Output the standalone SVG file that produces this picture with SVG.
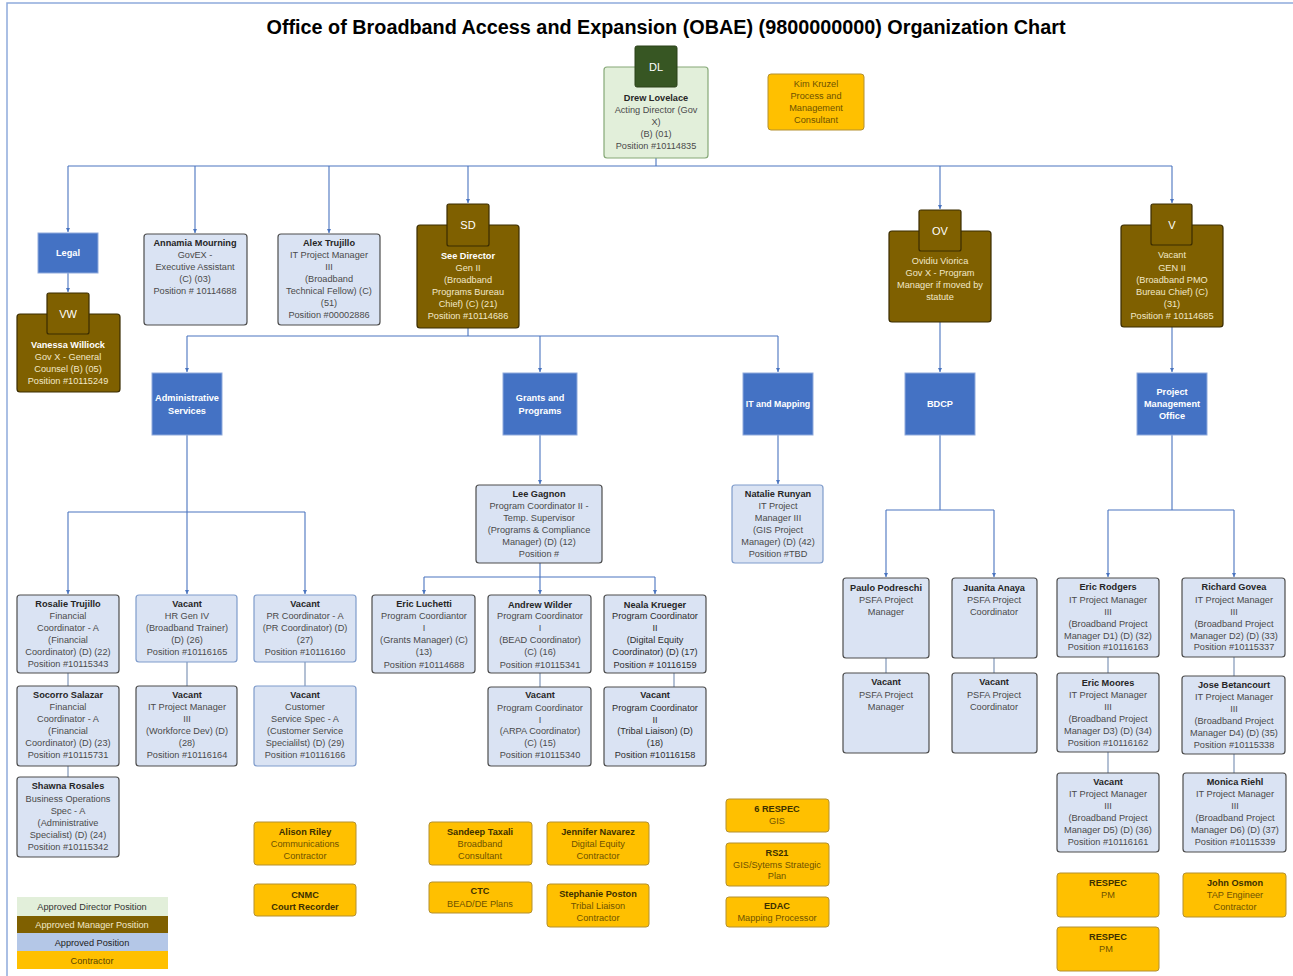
<svg xmlns="http://www.w3.org/2000/svg" width="1293" height="976" viewBox="0 0 1293 976">
<style>
text{font-family:"Liberation Sans",Arial,sans-serif;font-size:9.2px;text-anchor:middle;fill:#4a4a4a}
.b{font-weight:bold;fill:#262626}
.w{fill:#ffffff}
.wb{fill:#ffffff;font-weight:bold}
.cr{fill:#f2e8c8}
.h{font-size:11px;fill:#ffffff}
.kt{fill:#6e5200}
.kb{fill:#3d3000;font-weight:bold}
.dir{fill:#e2efda;stroke:#86a877;stroke-width:1.2}
.dh{fill:#375623;stroke:#2a4019;stroke-width:1}
.mgr{fill:#7f6000;stroke:#3a2c00;stroke-width:1.2}
.ap{fill:#dae3f3;stroke:#4d4d4d;stroke-width:1.2}
.av{fill:#dae3f3;stroke:#7f9ccb;stroke-width:1.2}
.ct{fill:#ffc000;stroke:#b39030;stroke-width:1}
.un{fill:#4472c4;stroke:#8faadc;stroke-width:1}
.c{fill:none;stroke:#4a74bf;stroke-width:1.1}
.ca{fill:none;stroke:#4a74bf;stroke-width:1.1;marker-end:url(#ar)}
.cp{fill:none;stroke:#8197b8;stroke-width:1.2}
</style>
<defs>
<marker id="ar" viewBox="0 0 6 6" refX="6" refY="3" markerWidth="4" markerHeight="4" markerUnits="userSpaceOnUse" orient="auto"><path d="M0,0 L6,3 L0,6 z" fill="#4a74bf"/></marker>
</defs>
<rect x="0" y="0" width="1293" height="976" fill="#ffffff"/>
<path d="M7,976 V3 H1293" fill="none" stroke="#8eaadb" stroke-width="1.5"/>
<text x="666" y="34" style="font-size:20px;font-weight:bold;fill:#000" textLength="799" lengthAdjust="spacingAndGlyphs">Office of Broadband Access and Expansion (OBAE) (9800000000) Organization Chart</text>

<g id="connectors">
<path class="c" d="M656,158 V166 M68,166 H1172"/>
<path class="ca" d="M68,166 V232"/>
<path class="ca" d="M195,166 V233"/>
<path class="ca" d="M329,166 V233"/>
<path class="ca" d="M468,166 V203"/>
<path class="ca" d="M940,166 V209"/>
<path class="ca" d="M1172,166 V203"/>
<path class="ca" d="M68,273 V292"/>
<path class="c" d="M468,328 V336 M187,336 H778"/>
<path class="ca" d="M187,336 V372"/>
<path class="ca" d="M540,336 V372"/>
<path class="ca" d="M778,336 V372"/>
<path class="ca" d="M940,322 V372"/>
<path class="ca" d="M1172,327 V372"/>
<path class="c" d="M187,435 V512 M68,512 H305"/>
<path class="ca" d="M68,512 V594"/>
<path class="ca" d="M187,512 V594"/>
<path class="ca" d="M305,512 V594"/>
<path class="ca" d="M540,435 V484"/>
<path class="ca" d="M778,435 V484"/>
<path class="c" d="M540,563 V577 M424,577 H655"/>
<path class="ca" d="M424,577 V594"/>
<path class="ca" d="M540,577 V594"/>
<path class="ca" d="M655,577 V594"/>
<path class="c" d="M940,435 V510 M886,510 H994"/>
<path class="ca" d="M886,510 V577"/>
<path class="ca" d="M994,510 V577"/>
<path class="c" d="M1172,435 V510 M1108,510 H1234"/>
<path class="ca" d="M1108,510 V577"/>
<path class="ca" d="M1234,510 V577"/>
<path class="cp" d="M68,673 V686 M187,662 V686 M305,662 V686 M68,766 V777 M540,673 V687 M674,673 V687 M886,658 V673 M994,658 V673 M1108,657 V673 M1234,657 V676 M1108,752 V773 M1234,754 V773"/>
</g>

<g id="dl">
<rect class="dir" x="604" y="67" width="104" height="91" rx="3"/>
<rect class="dh" x="635" y="46" width="42" height="41" rx="2"/>
<text class="h" x="656" y="71">DL</text>
<text class="b" x="656" y="101">Drew Lovelace</text>
<text x="656" y="113">Acting Director (Gov</text>
<text x="656" y="125">X)</text>
<text x="656" y="137">(B) (01)</text>
<text x="656" y="149">Position #10114835</text>
</g>

<g id="kim">
<rect class="ct" x="768" y="74" width="96" height="56" rx="3"/>
<text class="kt" x="816" y="87">Kim Kruzel</text>
<text class="kt" x="816" y="99">Process and</text>
<text class="kt" x="816" y="111">Management</text>
<text class="kt" x="816" y="123">Consultant</text>
</g>

<g id="legal">
<rect class="un" x="38" y="233" width="60" height="40"/>
<text class="wb" x="68" y="256">Legal</text>
</g>

<g id="vw">
<rect class="mgr" x="17" y="314" width="103" height="78" rx="3"/>
<rect class="mgr" x="47" y="293" width="42" height="41" rx="2"/>
<text class="h" x="68" y="318">VW</text>
<text class="wb" x="68" y="348">Vanessa Williock</text>
<text class="cr" x="68" y="360">Gov X - General</text>
<text class="cr" x="68" y="372">Counsel (B) (05)</text>
<text class="cr" x="68" y="384">Position #10115249</text>
</g>

<g id="annamia">
<rect class="ap" x="144" y="234" width="103" height="91" rx="3"/>
<text class="b" x="195" y="246">Annamia Mourning</text>
<text x="195" y="258">GovEX -</text>
<text x="195" y="270">Executive Assistant</text>
<text x="195" y="282">(C) (03)</text>
<text x="195" y="294">Position # 10114688</text>
</g>

<g id="alex">
<rect class="ap" x="278" y="234" width="102" height="91" rx="3"/>
<text class="b" x="329" y="246">Alex Trujillo</text>
<text x="329" y="258">IT Project Manager</text>
<text x="329" y="270">III</text>
<text x="329" y="282">(Broadband</text>
<text x="329" y="294">Technical Fellow) (C)</text>
<text x="329" y="306">(51)</text>
<text x="329" y="318">Position #00002886</text>
</g>

<g id="sd">
<rect class="mgr" x="417" y="225" width="102" height="103" rx="3"/>
<rect class="mgr" x="447" y="204" width="42" height="42" rx="2"/>
<text class="h" x="468" y="229">SD</text>
<text class="wb" x="468" y="259">See Director</text>
<text class="cr" x="468" y="271">Gen II</text>
<text class="cr" x="468" y="283">(Broadband</text>
<text class="cr" x="468" y="295">Programs Bureau</text>
<text class="cr" x="468" y="307">Chief) (C) (21)</text>
<text class="cr" x="468" y="319">Position #10114686</text>
</g>

<g id="ov">
<rect class="mgr" x="889" y="231" width="102" height="91" rx="3"/>
<rect class="mgr" x="919" y="210" width="42" height="41" rx="2"/>
<text class="h" x="940" y="235">OV</text>
<text class="cr" x="940" y="264">Ovidiu Viorica</text>
<text class="cr" x="940" y="276">Gov X - Program</text>
<text class="cr" x="940" y="288">Manager if moved by</text>
<text class="cr" x="940" y="300">statute</text>
</g>

<g id="v">
<rect class="mgr" x="1121" y="225" width="102" height="102" rx="3"/>
<rect class="mgr" x="1151" y="204" width="41" height="41" rx="2"/>
<text class="h" x="1172" y="229">V</text>
<text class="cr" x="1172" y="258">Vacant</text>
<text class="cr" x="1172" y="271">GEN II</text>
<text class="cr" x="1172" y="283">(Broadband PMO</text>
<text class="cr" x="1172" y="295">Bureau Chief) (C)</text>
<text class="cr" x="1172" y="307">(31)</text>
<text class="cr" x="1172" y="319">Position # 10114685</text>
</g>

<g id="admin">
<rect class="un" x="152" y="373" width="70" height="62"/>
<text class="wb" x="187" y="401">Administrative</text>
<text class="wb" x="187" y="414">Services</text>
</g>
<g id="grants">
<rect class="un" x="503" y="373" width="74" height="62"/>
<text class="wb" x="540" y="401">Grants and</text>
<text class="wb" x="540" y="414">Programs</text>
</g>
<g id="itmap">
<rect class="un" x="743" y="373" width="70" height="62"/>
<text class="wb" x="778" y="407" style="font-size:8.8px">IT and Mapping</text>
</g>
<g id="bdcp">
<rect class="un" x="905" y="373" width="70" height="62"/>
<text class="wb" x="940" y="407">BDCP</text>
</g>
<g id="pmo">
<rect class="un" x="1137" y="373" width="70" height="62"/>
<text class="wb" x="1172" y="395">Project</text>
<text class="wb" x="1172" y="407">Management</text>
<text class="wb" x="1172" y="419">Office</text>
</g>

<g id="rosalie">
<rect class="ap" x="17" y="595" width="102" height="78" rx="3"/>
<text class="b" x="68" y="607">Rosalie Trujillo</text>
<text x="68" y="619">Financial</text>
<text x="68" y="631">Coordinator - A</text>
<text x="68" y="643">(Financial</text>
<text x="68" y="655">Coordinator) (D) (22)</text>
<text x="68" y="667">Position #10115343</text>
</g>
<g id="hr">
<rect class="av" x="136" y="595" width="101" height="67" rx="3"/>
<text class="b" x="187" y="607">Vacant</text>
<text x="187" y="619">HR Gen IV</text>
<text x="187" y="631">(Broadband Trainer)</text>
<text x="187" y="643">(D) (26)</text>
<text x="187" y="655">Position #10116165</text>
</g>
<g id="pr">
<rect class="av" x="254" y="595" width="102" height="67" rx="3"/>
<text class="b" x="305" y="607">Vacant</text>
<text x="305" y="619">PR Coordinator - A</text>
<text x="305" y="631">(PR Coordinator) (D)</text>
<text x="305" y="643">(27)</text>
<text x="305" y="655">Position #10116160</text>
</g>
<g id="socorro">
<rect class="ap" x="17" y="686" width="102" height="80" rx="3"/>
<text class="b" x="68" y="698">Socorro Salazar</text>
<text x="68" y="710">Financial</text>
<text x="68" y="722">Coordinator - A</text>
<text x="68" y="734">(Financial</text>
<text x="68" y="746">Coordinator) (D) (23)</text>
<text x="68" y="758">Position #10115731</text>
</g>
<g id="itpm-wd">
<rect class="ap" x="136" y="686" width="101" height="80" rx="3"/>
<text class="b" x="187" y="698">Vacant</text>
<text x="187" y="710">IT Project Manager</text>
<text x="187" y="722">III</text>
<text x="187" y="734">(Workforce Dev) (D)</text>
<text x="187" y="746">(28)</text>
<text x="187" y="758">Position #10116164</text>
</g>
<g id="customer">
<rect class="av" x="254" y="686" width="102" height="80" rx="3"/>
<text class="b" x="305" y="698">Vacant</text>
<text x="305" y="710">Customer</text>
<text x="305" y="722">Service  Spec - A</text>
<text x="305" y="734">(Customer Service</text>
<text x="305" y="746">Specialilst) (D) (29)</text>
<text x="305" y="758">Position #10116166</text>
</g>
<g id="shawna">
<rect class="ap" x="17" y="777" width="102" height="80" rx="3"/>
<text class="b" x="68" y="789">Shawna Rosales</text>
<text x="68" y="802">Business Operations</text>
<text x="68" y="814">Spec - A</text>
<text x="68" y="826">(Administrative</text>
<text x="68" y="838">Specialist) (D) (24)</text>
<text x="68" y="850">Position #10115342</text>
</g>

<g id="lee">
<rect class="ap" x="476" y="485" width="126" height="78" rx="3"/>
<text class="b" x="539" y="497">Lee Gagnon</text>
<text x="539" y="509">Program Coordinator II -</text>
<text x="539" y="521">Temp. Supervisor</text>
<text x="539" y="533">(Programs &amp; Compliance</text>
<text x="539" y="545">Manager) (D) (12)</text>
<text x="539" y="557">Position #</text>
</g>
<g id="natalie">
<rect class="av" x="732" y="485" width="91" height="78" rx="3"/>
<text class="b" x="778" y="497">Natalie Runyan</text>
<text x="778" y="509">IT Project</text>
<text x="778" y="521">Manager III</text>
<text x="778" y="533">(GIS Project</text>
<text x="778" y="545">Manager) (D) (42)</text>
<text x="778" y="557">Position #TBD</text>
</g>
<g id="luchetti">
<rect class="ap" x="372" y="595" width="103" height="78" rx="3"/>
<text class="b" x="424" y="607">Eric Luchetti</text>
<text x="424" y="619">Program Coordiantor</text>
<text x="424" y="631">I</text>
<text x="424" y="643">(Grants Manager) (C)</text>
<text x="424" y="655">(13)</text>
<text x="424" y="668">Position #10114688</text>
</g>
<g id="wilder">
<rect class="ap" x="488" y="595" width="103" height="78" rx="3"/>
<text class="b" x="540" y="608">Andrew Wilder</text>
<text x="540" y="619">Program Coordinator</text>
<text x="540" y="631">I</text>
<text x="540" y="643">(BEAD  Coordinator)</text>
<text x="540" y="655">(C) (16)</text>
<text x="540" y="668">Position #10115341</text>
</g>
<g id="krueger">
<rect class="ap" x="604" y="595" width="102" height="78" rx="3"/>
<text class="b" x="655" y="608">Neala Krueger</text>
<text x="655" y="619" style="fill:#2e2e2e">Program Coordinator</text>
<text x="655" y="631" style="fill:#2e2e2e">II</text>
<text x="655" y="643" style="fill:#2e2e2e">(Digital Equity</text>
<text x="655" y="655" style="fill:#2e2e2e">Coordinator) (D) (17)</text>
<text x="655" y="668" style="fill:#2e2e2e">Position # 10116159</text>
</g>
<g id="arpa">
<rect class="ap" x="488" y="687" width="103" height="79" rx="3"/>
<text class="b" x="540" y="698">Vacant</text>
<text x="540" y="711">Program Coordinator</text>
<text x="540" y="723">I</text>
<text x="540" y="734">(ARPA Coordinator)</text>
<text x="540" y="746">(C) (15)</text>
<text x="540" y="758">Position #10115340</text>
</g>
<g id="tribal">
<rect class="ap" x="604" y="687" width="102" height="79" rx="3"/>
<text class="b" x="655" y="698">Vacant</text>
<text x="655" y="711" style="fill:#2e2e2e">Program Coordinator</text>
<text x="655" y="723" style="fill:#2e2e2e">II</text>
<text x="655" y="734" style="fill:#2e2e2e">(Tribal Liaison) (D)</text>
<text x="655" y="746" style="fill:#2e2e2e">(18)</text>
<text x="655" y="758" style="fill:#2e2e2e">Position #10116158</text>
</g>

<g id="paulo">
<rect class="ap" x="843" y="578" width="86" height="80" rx="3"/>
<text class="b" x="886" y="591">Paulo Podreschi</text>
<text x="886" y="603">PSFA Project</text>
<text x="886" y="615">Manager</text>
</g>
<g id="juanita">
<rect class="ap" x="952" y="578" width="85" height="80" rx="3"/>
<text class="b" x="994" y="591">Juanita Anaya</text>
<text x="994" y="603">PSFA Project</text>
<text x="994" y="615">Coordinator</text>
</g>
<g id="psfa-pm">
<rect class="ap" x="843" y="673" width="86" height="80" rx="3"/>
<text class="b" x="886" y="685">Vacant</text>
<text x="886" y="698">PSFA Project</text>
<text x="886" y="710">Manager</text>
</g>
<g id="psfa-pc">
<rect class="ap" x="952" y="673" width="85" height="80" rx="3"/>
<text class="b" x="994" y="685">Vacant</text>
<text x="994" y="698">PSFA Project</text>
<text x="994" y="710">Coordinator</text>
</g>

<g id="rodgers">
<rect class="ap" x="1057" y="578" width="102" height="79" rx="3"/>
<text class="b" x="1108" y="590">Eric Rodgers</text>
<text x="1108" y="603">IT Project Manager</text>
<text x="1108" y="615">III</text>
<text x="1108" y="627">(Broadband Project</text>
<text x="1108" y="639">Manager D1) (D) (32)</text>
<text x="1108" y="650">Position #10116163</text>
</g>
<g id="govea">
<rect class="ap" x="1182" y="578" width="103" height="79" rx="3"/>
<text class="b" x="1234" y="590">Richard Govea</text>
<text x="1234" y="603">IT Project Manager</text>
<text x="1234" y="615">III</text>
<text x="1234" y="627">(Broadband Project</text>
<text x="1234" y="639">Manager D2) (D) (33)</text>
<text x="1234" y="650">Position #10115337</text>
</g>
<g id="moores">
<rect class="ap" x="1057" y="673" width="102" height="79" rx="3"/>
<text class="b" x="1108" y="686">Eric Moores</text>
<text x="1108" y="698">IT Project Manager</text>
<text x="1108" y="710">III</text>
<text x="1108" y="722">(Broadband Project</text>
<text x="1108" y="734">Manager D3) (D) (34)</text>
<text x="1108" y="746">Position #10116162</text>
</g>
<g id="betancourt">
<rect class="ap" x="1182" y="676" width="103" height="78" rx="3"/>
<text class="b" x="1234" y="688">Jose Betancourt</text>
<text x="1234" y="700">IT Project Manager</text>
<text x="1234" y="712">III</text>
<text x="1234" y="724">(Broadband Project</text>
<text x="1234" y="736">Manager D4) (D) (35)</text>
<text x="1234" y="748">Position #10115338</text>
</g>
<g id="vacant-d5">
<rect class="ap" x="1057" y="773" width="102" height="79" rx="3"/>
<text class="b" x="1108" y="785">Vacant</text>
<text x="1108" y="797">IT Project Manager</text>
<text x="1108" y="809">III</text>
<text x="1108" y="821">(Broadband Project</text>
<text x="1108" y="833">Manager D5) (D) (36)</text>
<text x="1108" y="845">Position #10116161</text>
</g>
<g id="riehl">
<rect class="ap" x="1183" y="773" width="103" height="79" rx="3"/>
<text class="b" x="1235" y="785">Monica Riehl</text>
<text x="1235" y="797">IT Project Manager</text>
<text x="1235" y="809">III</text>
<text x="1235" y="821">(Broadband Project</text>
<text x="1235" y="833">Manager D6) (D) (37)</text>
<text x="1235" y="845">Position #10115339</text>
</g>

<g id="respec1">
<rect class="ct" x="1057" y="873" width="102" height="44" rx="3"/>
<text class="kb" x="1108" y="886">RESPEC</text>
<text class="kt" x="1108" y="898">PM</text>
</g>
<g id="osmon">
<rect class="ct" x="1183" y="873" width="103" height="44" rx="3"/>
<text class="kb" x="1235" y="886">John Osmon</text>
<text class="kt" x="1235" y="898">TAP Engineer</text>
<text class="kt" x="1235" y="910">Contractor</text>
</g>
<g id="respec2">
<rect class="ct" x="1057" y="927" width="102" height="44" rx="3"/>
<text class="kb" x="1108" y="940">RESPEC</text>
<text class="kt" x="1106" y="952">PM</text>
</g>

<g id="riley">
<rect class="ct" x="254" y="822" width="102" height="43" rx="3"/>
<text class="kb" x="305" y="835">Alison Riley</text>
<text class="kt" x="305" y="847">Communications</text>
<text class="kt" x="305" y="859">Contractor</text>
</g>
<g id="cnmc">
<rect class="ct" x="254" y="884" width="102" height="32" rx="3"/>
<text class="kb" x="305" y="898">CNMC</text>
<text class="kb" x="305" y="910">Court Recorder</text>
</g>
<g id="taxali">
<rect class="ct" x="429" y="822" width="103" height="43" rx="3"/>
<text class="kb" x="480" y="835">Sandeep Taxali</text>
<text class="kt" x="480" y="847">Broadband</text>
<text class="kt" x="480" y="859">Consultant</text>
</g>
<g id="navarez">
<rect class="ct" x="547" y="822" width="102" height="43" rx="3"/>
<text class="kb" x="598" y="835">Jennifer Navarez</text>
<text class="kt" x="598" y="847">Digital Equity</text>
<text class="kt" x="598" y="859">Contractor</text>
</g>
<g id="ctc">
<rect class="ct" x="429" y="882" width="103" height="31" rx="3"/>
<text class="kb" x="480" y="894">CTC</text>
<text class="kt" x="480" y="907">BEAD/DE Plans</text>
</g>
<g id="poston">
<rect class="ct" x="547" y="884" width="102" height="43" rx="3"/>
<text class="kb" x="598" y="897">Stephanie Poston</text>
<text class="kt" x="598" y="909">Tribal Liaison</text>
<text class="kt" x="598" y="921">Contractor</text>
</g>
<g id="respec6">
<rect class="ct" x="726" y="799" width="103" height="33" rx="3"/>
<text class="kb" x="777" y="812">6 RESPEC</text>
<text class="kt" x="777" y="824">GIS</text>
</g>
<g id="rs21">
<rect class="ct" x="726" y="843" width="103" height="43" rx="3"/>
<text class="kb" x="777" y="856">RS21</text>
<text class="kt" x="777" y="868">GIS/Sytems Strategic</text>
<text class="kt" x="777" y="879">Plan</text>
</g>
<g id="edac">
<rect class="ct" x="726" y="897" width="103" height="30" rx="3"/>
<text class="kb" x="777" y="909">EDAC</text>
<text class="kt" x="777" y="921">Mapping Processor</text>
</g>

<g id="legend">
<rect x="17" y="897" width="151" height="19" fill="#e2efda"/>
<rect x="17" y="916" width="151" height="17" fill="#7f6000"/>
<rect x="17" y="933" width="151" height="18" fill="#b4c7e7"/>
<rect x="17" y="951" width="151" height="18" fill="#ffc000"/>
<text x="92" y="910" style="fill:#333">Approved Director Position</text>
<text x="92" y="928" style="fill:#f2e8c8">Approved Manager Position</text>
<text x="92" y="946" style="fill:#222">Approved Position</text>
<text x="92" y="964" style="fill:#5a4400">Contractor</text>
</g>
</svg>
